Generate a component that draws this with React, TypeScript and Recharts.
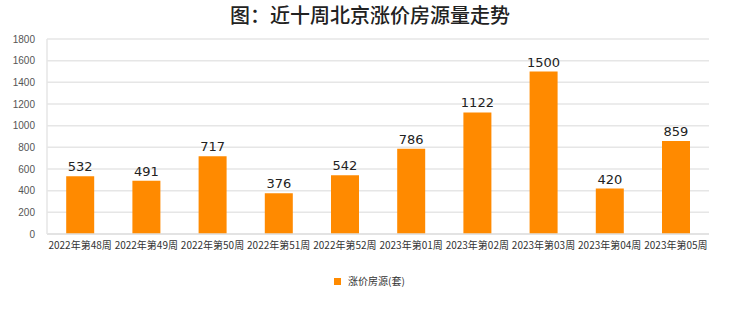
import { BarChart, Bar, XAxis, YAxis, CartesianGrid, LabelList } from 'recharts';

const weeks = [
  '2022年第48周', '2022年第49周', '2022年第50周', '2022年第51周', '2022年第52周',
  '2023年第01周', '2023年第02周', '2023年第03周', '2023年第04周', '2023年第05周',
];
const listings = [532, 491, 717, 376, 542, 786, 1122, 1500, 420, 859];
const yTicks = [0, 200, 400, 600, 800, 1000, 1200, 1400, 1600, 1800];

const seriesName = '涨价房源(套)';
const data = weeks.map((week, i) => ({ week, value: listings[i] }));

const FONT = '"Noto Sans CJK SC", "Noto Sans", sans-serif';

export default function App() {
  return (
    <div style={{ position: 'absolute', left: 0, top: 0, width: 740, height: 312, background: '#fff', fontFamily: FONT }}>
      <div
        style={{
          position: 'absolute', top: 2, left: 0, width: 740, textAlign: 'center',
          fontSize: 20, fontWeight: 500, color: '#222', lineHeight: '26px',
        }}
      >
        图：近十周北京涨价房源量走势
      </div>
      <BarChart
        width={740}
        height={312}
        data={data}
        margin={{ top: 39, right: 31, left: 0, bottom: 0 }}
        barCategoryGap="29%"
      >
        <CartesianGrid vertical={false} stroke="#e6e6e6" strokeWidth={1.5} />
        <XAxis
          dataKey="week"
          height={78}
          interval={0}
          tickLine={false}
          axisLine={{ stroke: '#e0e0e0', strokeWidth: 1.5 }}
          tick={{ fontSize: 10, fill: '#333', fontFamily: FONT }}
          tickMargin={2}
        />
        <YAxis
          width={47}
          domain={[0, 1800]}
          ticks={yTicks}
          interval={0}
          tickLine={false}
          axisLine={{ stroke: '#e6e6e6', strokeWidth: 1.5 }}
          tick={{ fontSize: 10, fill: '#555', fontFamily: '"Liberation Sans", Arial, sans-serif' }}
          tickMargin={6}
        />
        <YAxis
          yAxisId="frame"
          orientation="right"
          width={0}
          tick={false}
          tickLine={false}
          axisLine={{ stroke: '#e6e6e6', strokeWidth: 1.5 }}
        />
        <Bar dataKey="value" name={seriesName} fill="#ff8a00" isAnimationActive={false}>
          <LabelList
            dataKey="value"
            position="top"
            offset={5}
            style={{ fontSize: 13, fill: '#222', fontFamily: '"DejaVu Sans", sans-serif' }}
          />
        </Bar>
      </BarChart>
      <div
        style={{
          position: 'absolute', top: 273, left: 334, display: 'flex', alignItems: 'center',
          fontSize: 10, color: '#333', lineHeight: '16px',
        }}
      >
        <span style={{ display: 'inline-block', width: 7, height: 7, background: '#ff8a00', marginRight: 7 }} />
        <span>{seriesName}</span>
      </div>
    </div>
  );
}
